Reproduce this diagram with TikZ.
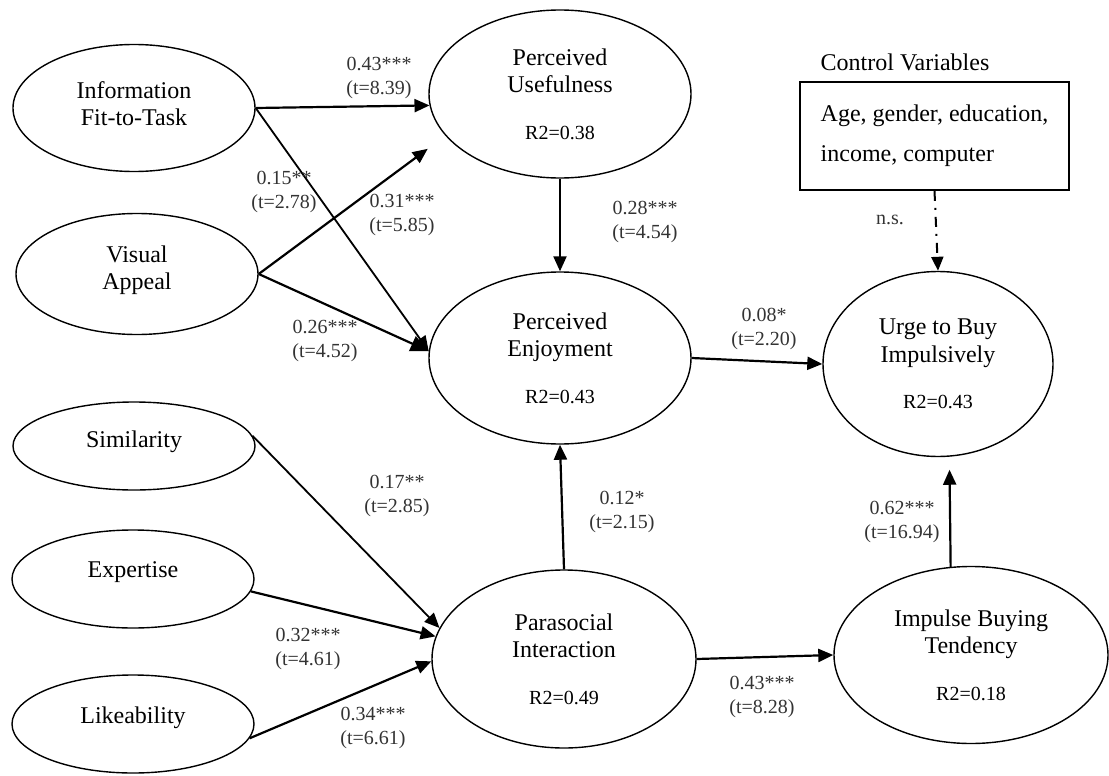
\documentclass[tikz,border=0pt]{standalone}
\usepackage{fontspec}
\setmainfont{Liberation Serif}
\usetikzlibrary{arrows.meta,shapes.geometric}

\newcommand{\rsq}[1]{{\fontsize{10}{12}\selectfont #1}}

\begin{document}
\begin{tikzpicture}[x=0.5pt,y=-0.5pt,
  construct/.style={ellipse, draw=black, line width=0.7pt, inner sep=0pt},
  exo/.style={construct, minimum width=121pt},
  endo/.style={construct, font=\fontsize{12}{13.75}\selectfont, align=center},
  cname/.style={font=\fontsize{12}{13.75}\selectfont, align=center, inner sep=0pt},
  coef/.style={font=\fontsize{10}{12}\selectfont, align=center, text=black!80, inner sep=0pt},
  effect/.style={-{Triangle[length=7.5pt,width=6.5pt]}, line width=1.1pt},
  control/.style={-{Triangle[length=7pt,width=6pt]}, line width=1pt,
    dash pattern=on 5pt off 3.5pt on 1pt off 3.5pt}]

  \useasboundingbox (0,0) rectangle (1109,776);

  % exogenous constructs (left column)
  \node[exo, minimum height=63.5pt] (info) at (134,108) {};
  \node[cname] (infotxt) at (134,103.5) {Information\\Fit-to-Task};
  \node[exo, minimum height=60.5pt] (vis) at (137,274) {};
  \node[cname] (vistxt) at (137,270) {Visual\\Appeal};
  \node[exo, minimum height=44pt] (sim) at (134,446) {};
  \node[cname] (simtxt) at (134,442) {Similarity};
  \node[exo, minimum height=49pt] (exp) at (133,579) {};
  \node[cname] (exptxt) at (133,572) {Expertise};
  \node[exo, minimum height=49pt] (lik) at (133,724) {};
  \node[cname] (liktxt) at (133,718) {Likeability};

  % endogenous constructs
  \node[endo, minimum width=131pt, minimum height=84pt] (pu) at (560,94)
    {Perceived\\Usefulness\\[9.5pt]\rsq{R2=0.38}};
  \node[endo, minimum width=131pt, minimum height=86pt] (pe) at (560,358)
    {Perceived\\Enjoyment\\[9.5pt]\rsq{R2=0.43}};
  \node[endo, minimum width=132pt, minimum height=89pt] (para) at (564,659)
    {Parasocial\\Interaction\\[9.5pt]\rsq{R2=0.49}};
  \node[endo, minimum width=115pt, minimum height=92.5pt] (urge) at (938,364)
    {Urge to Buy\\Impulsively\\[9.5pt]\rsq{R2=0.43}};
  \node[endo, minimum width=137pt, minimum height=88.5pt] (ibt) at (971,655)
    {Impulse Buying\\Tendency\\[9.5pt]\rsq{R2=0.18}};

  % control variables
  \node[cname] (cvtitle) at (905,62) {Control Variables};
  \node[draw, line width=0.9pt, font=\fontsize{12}{20}\selectfont, align=left,
    inner xsep=10.5pt, minimum height=54pt] (ctrl) at (934.5,136)
    {Age, gender, education,\\income, computer};

  % structural paths
  \draw[effect] (info.east) -- (pu.185);
  \draw[effect, line width=0.9pt] (info.east) -- (pe.177);
  \draw[effect, shorten >=11pt] (vis.east) -- (pu.200);
  \draw[effect, -{Triangle[length=9pt,width=8pt]}] (vis.east) -- (pe.177);
  \draw[effect] (pu.south) -- (pe.north);
  \draw[effect] (pe.east) -- (urge.west);
  \draw[effect] (para.north) -- (pe.south);
  \draw[effect] (para.east) -- (ibt.west);
  \draw[effect, shorten >=6.5pt] (ibt.103) -- (urge.-83);
  \draw[effect, line width=0.9pt] (sim.5) -- (para.166);
  \draw[effect] (exp.-6) -- (para.170);
  \draw[effect] (lik.-7) -- (para.181);
  \draw[control] (ctrl.south) -- (urge.north);

  % path coefficients
  \node[coef] (c1) at (379,78) {0.43***\\(t=8.39)};
  \node[coef] (c2) at (284,192) {0.15**\\(t=2.78)};
  \node[coef] (c3) at (402,215) {0.31***\\(t=5.85)};
  \node[coef] (c4) at (325,341) {0.26***\\(t=4.52)};
  \node[coef] (c5) at (645,222) {0.28***\\(t=4.54)};
  \node[coef] (c6) at (764,329) {0.08*\\(t=2.20)};
  \node[coef] (c7) at (890,220) {n.s.};
  \node[coef] (c8) at (397,496) {0.17**\\(t=2.85)};
  \node[coef] (c9) at (622,512) {0.12*\\(t=2.15)};
  \node[coef] (c10) at (902,522) {0.62***\\(t=16.94)};
  \node[coef] (c11) at (308,649) {0.32***\\(t=4.61)};
  \node[coef] (c12) at (373,728) {0.34***\\(t=6.61)};
  \node[coef] (c13) at (762,697) {0.43***\\(t=8.28)};
\end{tikzpicture}
\end{document}
